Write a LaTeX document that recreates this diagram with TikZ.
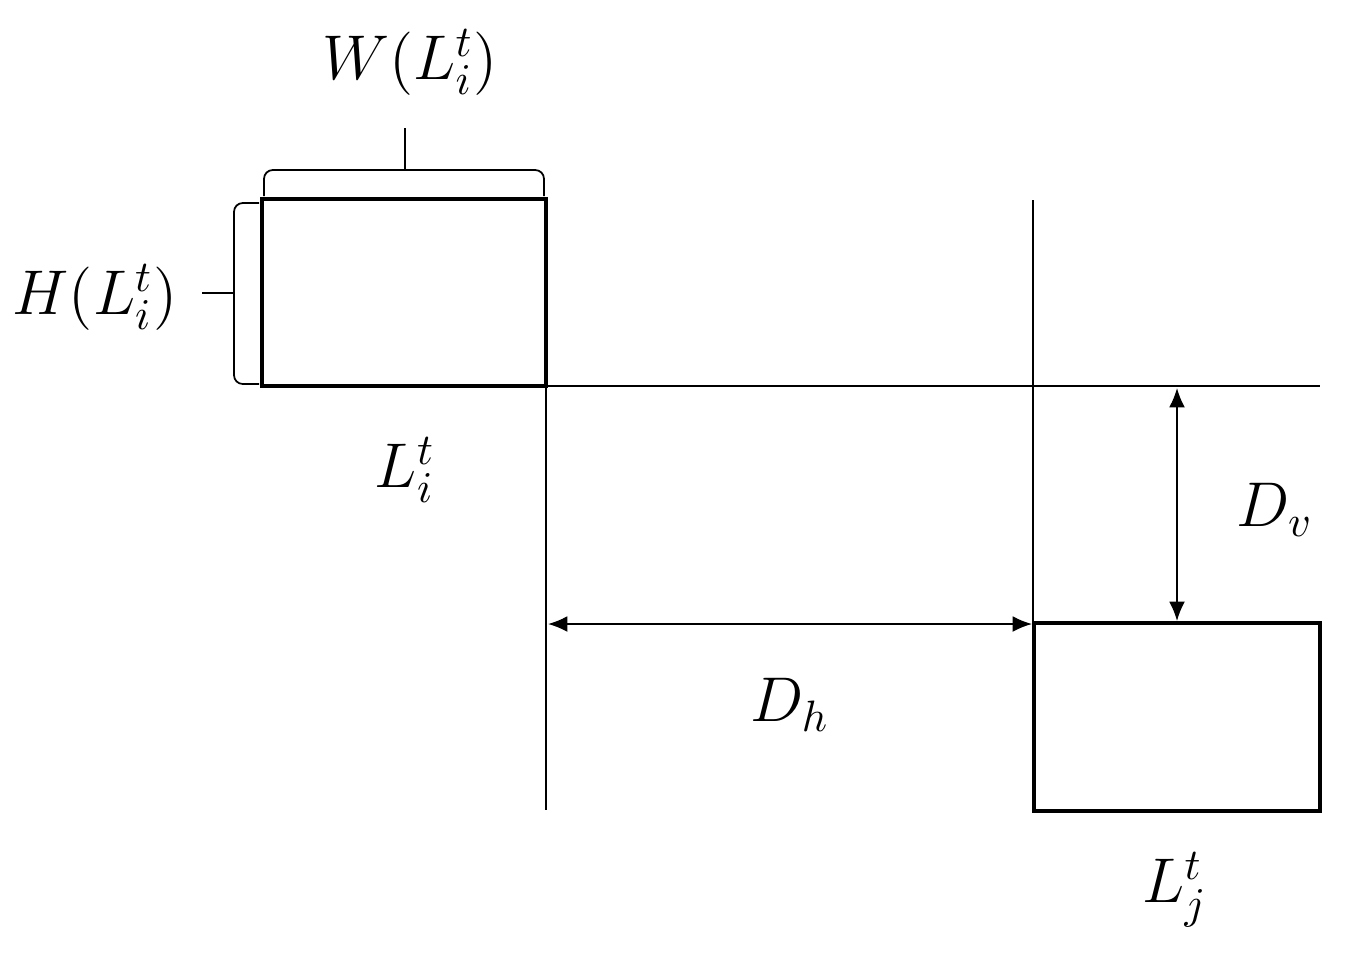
\documentclass[tikz,border=0pt]{standalone}
\usetikzlibrary{arrows.meta}
\begin{document}
\begin{tikzpicture}[x=0.02cm,y=-0.02cm,
  boxs/.style={draw,line width=2.8pt},
  thin/.style={line width=1pt},
  dim/.style={line width=1pt,{Latex[length=11pt,width=9pt]}-{Latex[length=11pt,width=9pt]}},
  brc/.style={line width=1pt,rounded corners=5pt},
  lbl/.style={font=\Large,scale=2.5}]
\useasboundingbox (0,0) rectangle (1353,958);
\coordinate (bi1) at (262,199); \coordinate (bi2) at (546,386);
\draw[boxs] (bi1) rectangle (bi2);
\coordinate (bj1) at (1034,623); \coordinate (bj2) at (1320,811);
\draw[boxs] (bj1) rectangle (bj2);
\coordinate (hr) at (1320,386);
\coordinate (vb) at (546,810);
\coordinate (vt) at (1033,200);
\coordinate (vjt) at (1033,623);
\draw[thin] (bi2) -- (hr);
\draw[thin] (bi2) -- (vb);
\draw[thin] (vt) -- (vjt);
\coordinate (h1) at (548,624); \coordinate (h2) at (1032,624);
\draw[dim] (h1) -- (h2);
\coordinate (v1) at (1177,388); \coordinate (v2) at (1177,621);
\draw[dim] (v1) -- (v2);
% top brace
\coordinate (tb1) at (264,196); \coordinate (tb2) at (544,196);
\coordinate (tbm) at (405,170); \coordinate (tbt) at (405,128);
\draw[brc] (tb1) -- (264,170) -- (tbm) -- (544,170) -- (tb2);
\draw[thin] (tbm) -- (tbt);
% left brace
\coordinate (lb1) at (259,203); \coordinate (lb2) at (259,384);
\coordinate (lbm) at (234,293); \coordinate (lbt) at (202,293);
\draw[brc] (lb1) -- (234,203) -- (lbm) -- (234,384) -- (lb2);
\draw[thin] (lbm) -- (lbt);
\node[lbl] (w) at (410,62) {$W(L_i^t)$};
\node[lbl] (h) at (95,297) {$H(L_i^t)$};
\node[lbl] (li) at (405,470) {$L_i^t$};
\node[lbl] (dv) at (1275,510) {$D_v$};
\node[lbl] (dh) at (790,705) {$D_h$};
\node[lbl] (lj) at (1175,890) {$L_j^t$};
\end{tikzpicture}
\end{document}
